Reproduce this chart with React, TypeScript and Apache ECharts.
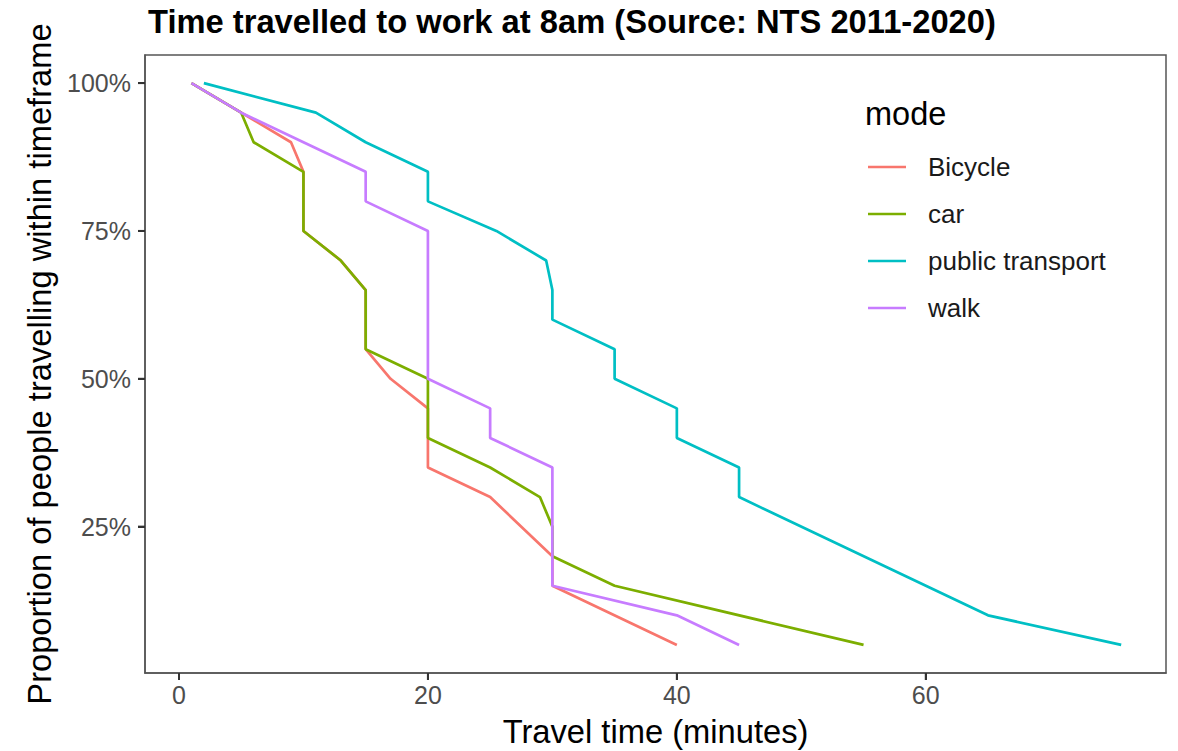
import React, { useEffect, useRef } from "react";
import * as echarts from "echarts";

const modes = ["Bicycle", "car", "public transport", "walk"];
const modeColors = ["#F8766D", "#7CAE00", "#00BFC4", "#C77CFF"];

const bicycleTime = [1, 5, 9, 10, 10, 13, 15, 15, 17, 20, 20, 25, 30, 30, 40];
const bicycleShare = [100, 95, 90, 85, 75, 70, 65, 55, 50, 45, 35, 30, 20, 15, 5];

const carTime = [1, 5, 6, 10, 10, 13, 15, 15, 20, 20, 25, 29, 30, 30, 35, 55];
const carShare = [100, 95, 90, 85, 75, 70, 65, 55, 50, 40, 35, 30, 25, 20, 15, 5];

const ptTime = [2, 11, 15, 20, 20, 25.5, 29.5, 30, 30, 35, 35, 40, 40, 45, 45, 65, 75.7];
const ptShare = [100, 95, 90, 85, 80, 75, 70, 65, 60, 55, 50, 45, 40, 35, 30, 10, 5];

const walkTime = [1, 5, 10, 15, 15, 20, 20, 25, 25, 30, 30, 40, 45];
const walkShare = [100, 95, 90, 85, 80, 75, 50, 45, 40, 35, 15, 10, 5];

const xTicks = [0, 20, 40, 60];
const yTicks = [25, 50, 75, 100];

const seriesTimes = [bicycleTime, carTime, ptTime, walkTime];
const seriesShares = [bicycleShare, carShare, ptShare, walkShare];

const X_MIN = -2.73;
const X_MAX = 79.3;
const Y_MIN = 0.25;
const Y_MAX = 104.75;

const FONT = "'Liberation Sans', Arial, Helvetica, sans-serif";
const TICK_LEN = 7;
const TICK_COLOR = "#333";

export default function App() {
  const ref = useRef<HTMLDivElement>(null);
  useEffect(() => {
    if (!ref.current) return;
    const chart = echarts.init(ref.current, undefined, { renderer: "svg" });
    const series: any[] = modes.map((name, i) => ({
      name,
      type: "line",
      data: seriesTimes[i].map((t, j) => [t, seriesShares[i][j]]),
      symbol: "none",
      showSymbol: false,
      lineStyle: { color: modeColors[i], width: 2.7 },
      itemStyle: { color: modeColors[i] },
      z: 2 + i,
    }));
    series.push({
      type: "custom",
      name: "xTicks",
      silent: true,
      clip: false,
      z: 10,
      data: xTicks.map((v) => [v, Y_MIN]),
      renderItem: (_p: any, api: any) => {
        const pt = api.coord([api.value(0), api.value(1)]);
        return {
          type: "line",
          shape: { x1: pt[0], y1: pt[1], x2: pt[0], y2: pt[1] + TICK_LEN },
          style: { stroke: TICK_COLOR, lineWidth: 2 },
        };
      },
    });
    series.push({
      type: "custom",
      name: "yTicks",
      silent: true,
      clip: false,
      z: 10,
      data: yTicks.map((v) => [X_MIN, v]),
      renderItem: (_p: any, api: any) => {
        const pt = api.coord([api.value(0), api.value(1)]);
        return {
          type: "line",
          shape: { x1: pt[0] - TICK_LEN, y1: pt[1], x2: pt[0], y2: pt[1] },
          style: { stroke: TICK_COLOR, lineWidth: 2 },
        };
      },
    });
    const axisLineStyle = { color: "#555", width: 1.5 };
    const tickStyle = { color: TICK_COLOR, width: 2 };
    chart.setOption({
      animation: false,
      backgroundColor: "#ffffff",
      textStyle: { fontFamily: FONT },
      title: {
        text: "Time travelled to work at 8am (Source: NTS 2011-2020)",
        left: 148,
        top: 5,
        padding: 0,
        textStyle: { fontFamily: FONT, fontSize: 32.7, fontWeight: "bold", color: "#000" },
      },
      grid: {
        left: 145,
        right: 12,
        top: 55,
        bottom: 78,
        show: true,
        borderColor: "#555",
        borderWidth: 1.5,
        containLabel: false,
        outerBoundsMode: "none",
      },
      legend: {
        orient: "vertical",
        left: 868,
        top: 154,
        padding: 0,
        icon: "rect",
        itemWidth: 38,
        itemHeight: 2.5,
        itemGap: 21,
        data: modes,
        textStyle: {
          fontFamily: FONT,
          fontSize: 26,
          color: "#1a1a1a",
          padding: [0, 0, 0, 17],
        },
      },
      graphic: [
        {
          type: "text",
          left: 865,
          top: 97,
          style: { text: "mode", font: `32.5px ${FONT}`, fill: "#000" },
        },
      ],
      xAxis: {
        type: "value",
        position: "bottom",
        min: X_MIN,
        max: X_MAX,
        name: "Travel time (minutes)",
        nameLocation: "middle",
        nameGap: 42,
        nameTextStyle: { fontFamily: FONT, fontSize: 32.7, color: "#000" },
        axisLine: { show: true, onZero: false, lineStyle: axisLineStyle },
        splitLine: { show: false },
        axisTick: { show: true, inside: false, length: TICK_LEN, customValues: xTicks, lineStyle: tickStyle },
        axisLabel: { margin: 9, customValues: xTicks, fontFamily: FONT, fontSize: 25, color: "#4d4d4d" },
      },
      yAxis: {
        type: "value",
        position: "left",
        min: Y_MIN,
        max: Y_MAX,
        name: "Proportion of people travelling within timeframe",
        nameLocation: "middle",
        nameGap: 88,
        nameTextStyle: { fontFamily: FONT, fontSize: 32.7, color: "#000" },
        axisLine: { show: true, onZero: false, lineStyle: axisLineStyle },
        splitLine: { show: false },
        axisTick: { show: true, inside: false, length: TICK_LEN, customValues: yTicks, lineStyle: tickStyle },
        axisLabel: {
          margin: 14,
          customValues: yTicks,
          fontFamily: FONT,
          fontSize: 25,
          color: "#4d4d4d",
          formatter: (v: number) => `${v}%`,
        },
      },
      series,
    });
    return () => chart.dispose();
  }, []);
  return (
    <div
      ref={ref}
      style={{ position: "fixed", left: 0, top: 0, width: 1178, height: 751 }}
    />
  );
}
